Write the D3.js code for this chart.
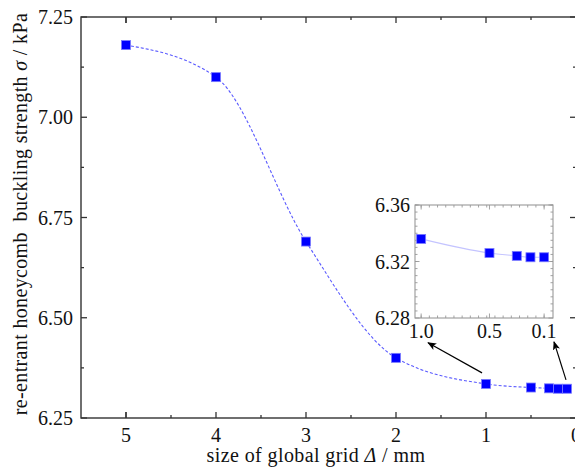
<!DOCTYPE html>
<html>
<head>
<meta charset="utf-8">
<script src="https://cdn.jsdelivr.net/npm/d3@7"></script>
<style>
  html, body { margin: 0; padding: 0; background: #fff; }
  text, tspan { font-family: "Liberation Serif", "DejaVu Serif", serif; }
</style>
</head>
<body>
<svg id="chart" width="575" height="468"></svg>
<script>
// Grid size (mm) and buckling strength (kPa)
const gridSize = [5, 4, 3, 2, 1, 0.5, 0.3, 0.2, 0.1];
const strength = [7.18, 7.10, 6.69, 6.40, 6.335, 6.326, 6.324, 6.323, 6.323];

// Zoomed detail: the finest grids
const insetSize = [1.0, 0.5, 0.3, 0.2, 0.1];
const insetStrength = [6.336, 6.326, 6.324, 6.323, 6.323];

// Tick labels
const xTicks = [5, 4, 3, 2, 1, 0];
const yTicks = [6.25, 6.50, 6.75, 7.00, 7.25];
const insetXTicks = [1.0, 0.5, 0.1];
const insetYTicks = [6.28, 6.32, 6.36];

// Arrows linking the main curve to the inset, in main data units: [x1, y1, x2, y2]
const arrows = [
  [1.044, 6.3625, 1.644, 6.4375],
  [0.111, 6.345, 0.244, 6.440]
];

const svg = d3.select("#chart");
const axisColor = "#333";
const textColor = "#111";

// ---------- main plot ----------
const x = d3.scaleLinear().domain([5.5, 0]).range([81, 576]);
const y = d3.scaleLinear().domain([6.25, 7.25]).range([418, 17]);
const [x0, x1] = x.range();
const [y0, y1] = y.range();

svg.append("defs").append("marker")
  .attr("id", "arrowhead")
  .attr("viewBox", "0 0 10 10")
  .attr("refX", 9).attr("refY", 5)
  .attr("markerWidth", 9).attr("markerHeight", 9)
  .attr("markerUnits", "userSpaceOnUse")
  .attr("orient", "auto")
  .append("path").attr("d", "M0,1 L10,5 L0,9 L2.5,5 Z").attr("fill", "#000");

// frame
svg.append("rect")
  .attr("x", x0).attr("y", y1).attr("width", x1 - x0).attr("height", y0 - y1)
  .attr("fill", "none").attr("stroke", axisColor).attr("stroke-width", 1.4);

const majorLen = 6, minorLen = 3;
const xMinor = d3.range(0.5, 5.5, 0.5);
const yMinor = d3.range(6.375, 7.25, 0.25);
const tickG = svg.append("g").attr("stroke", axisColor).attr("stroke-width", 1.3);
// bottom & top ticks (inward)
xMinor.concat([5]).forEach(v => {
  const isMajor = Math.abs(v - Math.round(v)) < 1e-9;
  const L = isMajor ? majorLen : minorLen;
  tickG.append("line").attr("x1", x(v)).attr("x2", x(v)).attr("y1", y0).attr("y2", y0 - L);
  tickG.append("line").attr("x1", x(v)).attr("x2", x(v)).attr("y1", y1).attr("y2", y1 + L);
});
// left & right ticks (inward)
yTicks.concat(yMinor).forEach(v => {
  const isMajor = yTicks.some(t => Math.abs(t - v) < 1e-9);
  const L = isMajor ? majorLen : minorLen;
  tickG.append("line").attr("x1", x0).attr("x2", x0 + L).attr("y1", y(v)).attr("y2", y(v));
  tickG.append("line").attr("x1", x1).attr("x2", x1 - L).attr("y1", y(v)).attr("y2", y(v));
});

// tick labels
svg.append("g").selectAll("text").data(yTicks).join("text")
  .attr("x", 73).attr("y", d => y(d)).attr("dy", "0.35em")
  .attr("text-anchor", "end").attr("font-size", 20).attr("fill", textColor)
  .text(d => d.toFixed(2));
svg.append("g").selectAll("text").data(xTicks).join("text")
  .attr("x", d => x(d)).attr("y", 442)
  .attr("text-anchor", "middle").attr("font-size", 20).attr("fill", textColor)
  .text(d => d);

// axis titles
const xt = svg.append("text").attr("x", 316).attr("y", 462)
  .attr("text-anchor", "middle").attr("font-size", 20).attr("fill", textColor)
  .attr("letter-spacing", 0.4);
xt.append("tspan").text("size of global grid ");
xt.append("tspan").attr("font-style", "italic").text("Δ");
xt.append("tspan").text(" / mm");

const yt = svg.append("text")
  .attr("transform", "translate(27,214) rotate(-90)")
  .attr("text-anchor", "middle").attr("font-size", 20).attr("fill", textColor)
  .attr("letter-spacing", 0.35)
  .style("white-space", "pre");
yt.append("tspan").text("re-entrant honeycomb  buckling strength ");
yt.append("tspan").attr("font-style", "italic").text("σ");
yt.append("tspan").text(" / kPa");

// curve
const pts = gridSize.map((g, i) => [g, strength[i]]);
svg.append("path")
  .datum(pts)
  .attr("fill", "none")
  .attr("stroke", "#5a5aff").attr("stroke-width", 1.1)
  .attr("stroke-dasharray", "3,2")
  .attr("d", d3.line().x(d => x(d[0])).y(d => y(d[1])).curve(d3.curveMonotoneX));

const ms = 9;
svg.append("g").selectAll("rect").data(pts).join("rect")
  .attr("x", d => x(d[0]) - ms / 2).attr("y", d => y(d[1]) - ms / 2)
  .attr("width", ms).attr("height", ms)
  .attr("fill", "#0000ff").attr("stroke", "#7a7aff").attr("stroke-width", 0.8);

// arrows
svg.append("g").selectAll("line").data(arrows).join("line")
  .attr("x1", d => x(d[0])).attr("y1", d => y(d[1]))
  .attr("x2", d => x(d[2])).attr("y2", d => y(d[3]))
  .attr("stroke", "#000").attr("stroke-width", 1.2)
  .attr("marker-end", "url(#arrowhead)");

// ---------- inset ----------
const ix = d3.scaleLinear().domain([1.045, 0.035]).range([415, 553]);
const iy = d3.scaleLinear().domain([6.28, 6.36]).range([318, 205]);
const [ix0, ix1] = ix.range();
const [iy0, iy1] = iy.range();
const inset = svg.append("g");

inset.append("rect")
  .attr("x", ix0).attr("y", iy1).attr("width", ix1 - ix0).attr("height", iy0 - iy1)
  .attr("fill", "#fff").attr("stroke", "#999").attr("stroke-width", 1.1);

const iTick = inset.append("g").attr("stroke", "#999").attr("stroke-width", 0.9);
d3.range(1.0, 0.04, -0.06).forEach(v => {
  iTick.append("line").attr("x1", ix(v)).attr("x2", ix(v)).attr("y1", iy0).attr("y2", iy0 - 2.5);
  iTick.append("line").attr("x1", ix(v)).attr("x2", ix(v)).attr("y1", iy1).attr("y2", iy1 + 2.5);
});
insetXTicks.forEach(v => {
  iTick.append("line").attr("x1", ix(v)).attr("x2", ix(v)).attr("y1", iy0).attr("y2", iy0 - 4.5);
  iTick.append("line").attr("x1", ix(v)).attr("x2", ix(v)).attr("y1", iy1).attr("y2", iy1 + 4.5);
});
d3.range(6.285, 6.36, 0.005).forEach(v => {
  iTick.append("line").attr("x1", ix0).attr("x2", ix0 + 2.5).attr("y1", iy(v)).attr("y2", iy(v));
  iTick.append("line").attr("x1", ix1).attr("x2", ix1 - 2.5).attr("y1", iy(v)).attr("y2", iy(v));
});
insetYTicks.forEach(v => {
  iTick.append("line").attr("x1", ix0).attr("x2", ix0 + 4.5).attr("y1", iy(v)).attr("y2", iy(v));
  iTick.append("line").attr("x1", ix1).attr("x2", ix1 - 4.5).attr("y1", iy(v)).attr("y2", iy(v));
});

inset.append("g").selectAll("text").data(insetYTicks).join("text")
  .attr("x", 410).attr("y", d => iy(d)).attr("dy", "0.35em")
  .attr("text-anchor", "end").attr("font-size", 20).attr("fill", textColor)
  .text(d => d.toFixed(2));
inset.append("g").selectAll("text").data(insetXTicks).join("text")
  .attr("x", d => ix(d)).attr("y", 338)
  .attr("text-anchor", "middle").attr("font-size", 20).attr("fill", textColor)
  .text(d => d.toFixed(1));

const ipts = insetSize.map((g, i) => [g, insetStrength[i]]);
inset.append("path")
  .datum(ipts)
  .attr("fill", "none")
  .attr("stroke", "#c4c4ff").attr("stroke-width", 1.1)
  .attr("d", d3.line().x(d => ix(d[0])).y(d => iy(d[1])).curve(d3.curveMonotoneX));
inset.append("g").selectAll("rect").data(ipts).join("rect")
  .attr("x", d => ix(d[0]) - ms / 2).attr("y", d => iy(d[1]) - ms / 2)
  .attr("width", ms).attr("height", ms)
  .attr("fill", "#0000ff").attr("stroke", "#7a7aff").attr("stroke-width", 0.8);
</script>
</body>
</html>
